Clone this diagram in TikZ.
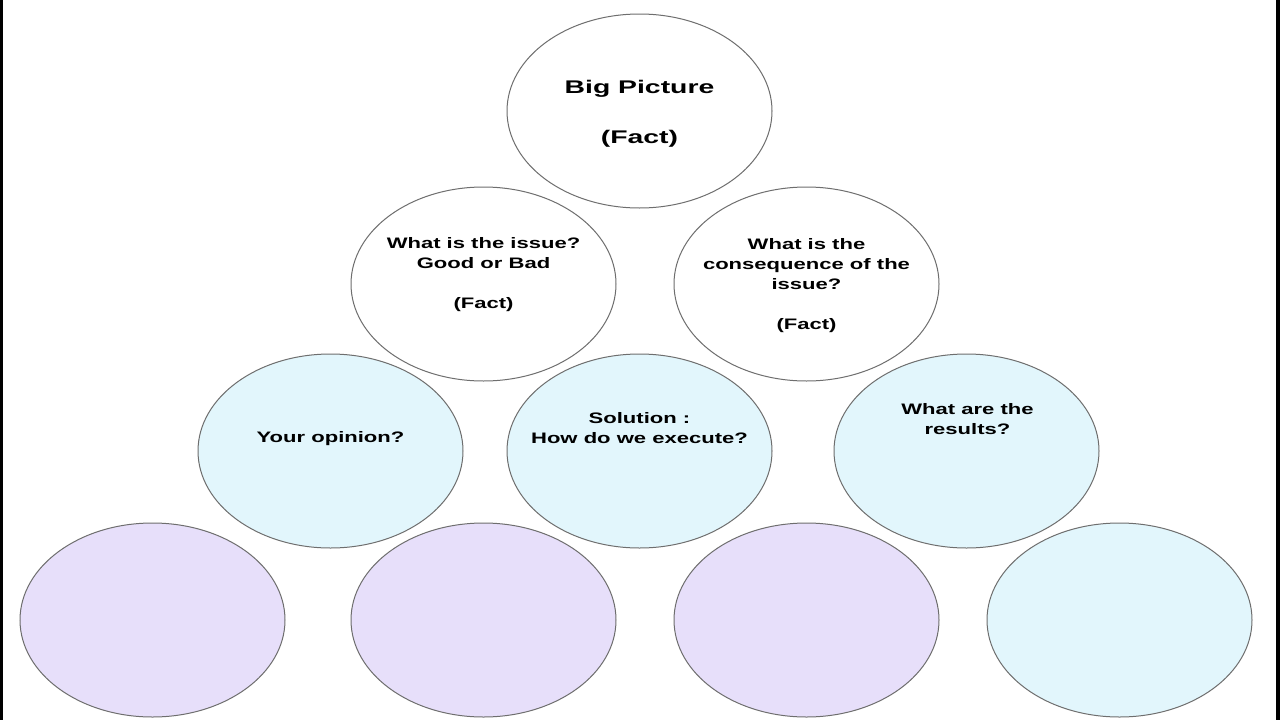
\documentclass[tikz,border=0pt]{standalone}
\usepackage{fontspec}
\setmainfont{Liberation Sans}
\usepackage{tikz}
\usetikzlibrary{
    positioning,
    shapes.geometric
}
\definecolor{bubbleline}{HTML}{6E6E6E}
\definecolor{skyfill}{HTML}{E2F6FC}
\definecolor{lilacfill}{HTML}{E7DFFA}

\begin{document}
\begin{tikzpicture}[
    x=1pt, y=-1pt,
    bubble/.style={
        ellipse,
        draw=bubbleline,
        line width=1pt,
        minimum width=265pt,
        minimum height=194pt,
        inner sep=0pt
    },
    note/.style={
        align=center,
        inner sep=0pt,
        font=\bfseries\fontsize{15.2}{20}\selectfont,
        xscale=1.45,
        transform shape
    },
    bignote/.style={
        align=center,
        inner sep=0pt,
        font=\bfseries\fontsize{18.3}{25}\selectfont,
        xscale=1.55,
        transform shape
    }
]
\useasboundingbox (0,0) rectangle (1280,720);
\fill[white] (0,0) rectangle (1280,720);
\fill[black] (0,0) rectangle (3,720);
\fill[black] (1276,0) rectangle (1280,720);

% top row
\node[bubble, fill=white] (big) at (639.5,111) {};

% second row
\node[bubble, fill=white] (issue) at (483.5,284) {};
\node[bubble, fill=white] (conseq) at (806.5,284) {};

% third row
\node[bubble, fill=skyfill] (opinion) at (330.5,451) {};
\node[bubble, fill=skyfill] (solution) at (639.5,451) {};
\node[bubble, fill=skyfill] (results) at (966.5,451) {};

% bottom row
\node[bubble, fill=lilacfill] (blankA) at (152.5,620) {};
\node[bubble, fill=lilacfill] (blankB) at (483.5,620) {};
\node[bubble, fill=lilacfill] (blankC) at (806.5,620) {};
\node[bubble, fill=skyfill] (blankD) at (1119.5,620) {};

% texts
\node[bignote] (bigtxt) at ([yshift=-3pt]big.center)
{Big Picture\\[25pt](Fact)};
\node[note] (issuetxt) at ([yshift=9pt]issue.center)
{What is the issue?\\Good or Bad\\[20pt](Fact)};
\node[note] (conseqtxt) at ([yshift=-2pt]conseq.center)
{What is the\\consequence of the\\issue?\\[20pt](Fact)};
\node[note] (opiniontxt) at ([yshift=12pt]opinion.center)
{Your opinion?};
\node[note] (solutiontxt) at ([yshift=23pt]solution.center)
{Solution :\\How do we execute?};
\node[note] (resultstxt) at ([xshift=1pt, yshift=31.5pt]results.center)
{What are the\\results?};

\end{tikzpicture}
\end{document}
